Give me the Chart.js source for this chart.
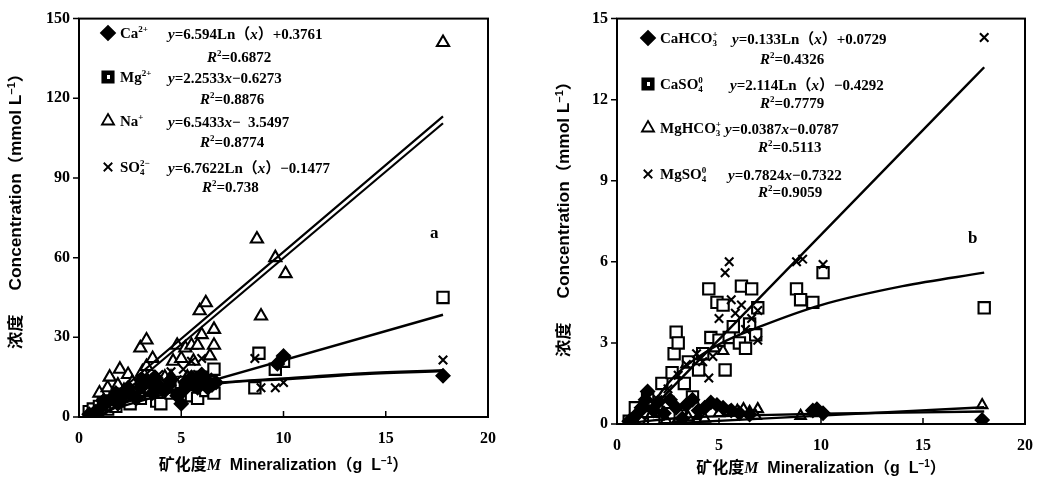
<!DOCTYPE html>
<html>
<head>
<meta charset="utf-8">
<script src="https://cdn.jsdelivr.net/npm/chart.js@4.4.1/dist/chart.umd.min.js"></script>
<style>
  body { margin: 0; background: #fff; }
  #wrap { position: relative; width: 1045px; height: 479px; }
  canvas { position: absolute; top: 0; }
</style>
</head>
<body>
<div id="wrap">
  <canvas id="chartA" width="520" height="479" style="left:0"></canvas>
  <canvas id="chartB" width="525" height="479" style="left:520px"></canvas>
</div>
<script>
// ---- panel a : ions (mmol/L) vs mineralization (g/L) ----
var xTicks = [0, 5, 10, 15, 20];
var yTicksA = [0, 30, 60, 90, 120, 150];
var yTicksB = [0, 3, 6, 9, 12, 15];

var caPts = [[0.5,1],[0.8,2],[1.0,3],[1.2,6],[1.3,5],[1.6,7],[1.8,9],[1.9,5],[2.2,8],[2.4,11],[2.5,9],[2.8,7],[3.0,11],[3.1,14],[3.3,13],[3.6,9],[3.7,15],[3.9,12],[4.2,10],[4.4,12],[4.5,14],[4.8,8],[5.0,5],[5.1,10],[5.2,13],[5.5,15],[5.6,12],[5.8,11],[5.9,14],[6.0,16],[6.2,14],[6.3,11],[6.5,12],[6.7,13],[9.7,20],[10.0,23],[17.8,15.5]];
var mgPts = [[0.5,2],[0.7,3],[0.9,1],[1.0,4],[1.2,5],[1.4,3],[1.6,6],[1.8,4],[2.0,8],[2.2,6],[2.5,5],[2.8,10],[3.0,7],[3.2,12],[3.5,9],[3.8,6],[4.0,5],[4.2,12],[4.5,9],[4.8,11],[5.0,13],[5.2,10],[5.5,8],[5.8,7],[5.9,12],[6.0,15],[6.2,10],[6.4,13],[6.6,18],[6.6,9],[8.6,11],[8.8,24],[9.6,18],[10.0,21],[17.8,45]];
var naPts = [[0.5,1],[0.7,2],[0.9,4],[1.0,9],[1.2,6],[1.4,11],[1.5,15],[1.7,8],[1.9,12],[2.0,18],[2.2,10],[2.4,16],[2.6,13],[2.8,9],[3.0,26],[3.1,17],[3.3,29],[3.3,19],[3.5,13],[3.6,22],[3.8,11],[4.0,11],[4.2,15],[4.5,15],[4.6,21],[4.8,27],[5.0,22],[5.2,26],[5.3,15],[5.5,27],[5.6,21],[5.8,27],[5.9,40],[6.0,31],[6.2,43],[6.4,23],[6.6,33],[6.6,27],[8.7,67],[8.9,38],[9.6,60],[10.1,54],[17.8,141]];
var so4Pts = [[0.6,1],[0.9,2],[1.2,4],[1.5,6],[1.8,8],[2.1,7],[2.4,9],[2.7,11],[3.0,10],[3.3,14],[3.6,12],[3.9,16],[4.2,13],[4.5,17],[4.8,14],[5.1,18],[5.5,21],[5.8,16],[6.0,22],[6.3,15],[6.6,13],[8.6,22],[8.9,11],[9.6,11],[10.0,13],[17.8,21.5]];

// fitted lines
var naFit1 = [[1.5,6.6],[17.8,113.2]];
var naFit2 = [[1.5,4.6],[17.8,110.6]];
var mgFit = [[2,3.8],[17.8,38.5]];
var caFit = [[1,0.4],[2,5],[3,7.8],[5,10.8],[7,13],[10,14.5],[14,16.5],[17.8,17.6]];
var so4Fit = [[1,0],[2,4.5],[3,7.2],[5,10.5],[7,12.8],[10,14.2],[14,16.2],[17.8,17.3]];

// ---- panel b : species ----
var cahco3Pts = [[0.6,0.1],[0.9,0.3],[1.2,0.6],[1.4,0.9],[1.5,1.2],[1.8,0.5],[2.0,0.8],[2.3,0.4],[2.6,0.9],[2.9,0.6],[3.2,0.2],[3.4,0.7],[3.7,0.9],[4.0,0.5],[4.3,0.6],[4.6,0.8],[4.9,0.7],[5.2,0.6],[5.6,0.5],[6.0,0.4],[6.5,0.35],[9.6,0.5],[9.8,0.55],[10.1,0.4],[17.9,0.15]];
var caso4Pts = [[0.6,0.1],[0.9,0.6],[1.3,0.05],[1.5,0.9],[1.8,0.05],[2.0,0.5],[2.2,1.5],[2.5,0.8],[2.7,1.9],[2.8,2.6],[2.9,3.4],[3.0,3.0],[3.1,0.3],[3.3,1.5],[3.5,2.3],[3.7,1.0],[4.0,2.0],[4.2,2.6],[4.5,5.0],[4.6,3.2],[4.9,4.5],[5.0,3.1],[5.2,4.4],[5.3,2.0],[5.5,3.2],[5.7,3.6],[6.0,3.0],[6.1,5.1],[6.3,2.8],[6.5,3.7],[6.6,5.0],[6.9,4.3],[6.8,3.3],[8.8,5.0],[9.0,4.6],[9.6,4.5],[10.1,5.6],[18.0,4.3]];
var mghco3Pts = [[0.7,0.05],[1.2,0.1],[1.8,0.1],[2.4,0.15],[3.0,0.2],[3.4,2.2],[3.5,0.25],[4.0,0.3],[4.3,0.2],[4.8,2.8],[5.0,0.4],[5.2,2.7],[5.5,0.45],[5.9,0.5],[6.2,0.55],[6.5,0.45],[6.9,0.55],[6.8,0.3],[9.0,0.3],[9.8,0.4],[17.9,0.7]];
var mgso4Pts = [[0.8,0.1],[1.2,0.3],[1.6,0.6],[2.0,0.9],[2.5,1.3],[3.0,1.8],[3.4,2.2],[3.9,2.6],[4.2,2.3],[4.5,1.7],[4.7,2.5],[5.0,3.9],[5.3,5.6],[5.5,6.0],[5.6,4.6],[5.8,4.1],[6.1,4.4],[6.3,3.5],[6.6,3.9],[6.9,4.2],[6.9,3.1],[8.8,6.0],[9.1,6.1],[10.1,5.9],[18.0,14.3]];

var mgso4Fit = [[2,0.8],[18,13.2]];
var caso4Fit = [[1,-0.4],[2,1.0],[3,1.9],[5,2.95],[7,3.6],[10,4.4],[14,5.1],[18,5.6]];
var mghco3Fit = [[2,0.0],[18,0.62]];
var cahco3Fit = [[1,0.07],[3,0.22],[5,0.29],[7,0.33],[10,0.38],[14,0.42],[18,0.46]];

// draw text made of pieces: [text, flags]  i=italic ^=sup _=sub ==sub without advance s=sans c=cjk
function rich(ctx, x, y, parts, size, bold, align, sx) {
  sx = sx || 1;
  var items = parts.map(function (p) {
    var t = p[0], f = p[1] || '';
    var small = /[\^_=]/.test(f);
    var sz = small ? Math.round(size * 0.62) : size;
    var fam = f.indexOf('c') >= 0 ? '"Noto Sans CJK SC"' : f.indexOf('s') >= 0 ? '"Liberation Sans"' : '"Liberation Serif"';
    var font = (f.indexOf('i') >= 0 ? 'italic ' : '') + (bold ? 'bold ' : '') + sz + 'px ' + fam;
    ctx.font = font;
    var w = ctx.measureText(t).width;
    var dy = f.indexOf('^') >= 0 ? -size * 0.4 : /[_=]/.test(f) ? size * 0.22 : 0;
    return { t: t, font: font, dy: dy, adv: f.indexOf('=') >= 0 ? 0 : w };
  });
  var total = items.reduce(function (s, it) { return s + it.adv; }, 0);
  ctx.save();
  ctx.translate(x, y);
  ctx.scale(sx, 1);
  var cx = align === 'center' ? -total / 2 : 0;
  ctx.textAlign = 'left';
  ctx.textBaseline = 'alphabetic';
  ctx.fillStyle = '#000';
  items.forEach(function (it) {
    ctx.font = it.font;
    ctx.fillText(it.t, cx, it.dy);
    cx += it.adv;
  });
  ctx.restore();
}

var decor = {
  id: 'decor',
  afterDatasetsDraw: function (chart, args, o) {
    var ctx = chart.ctx, a = chart.chartArea, sX = chart.scales.x, sY = chart.scales.y;
    ctx.save();
    ctx.strokeStyle = '#000';
    ctx.lineWidth = 2;
    ctx.strokeRect(a.left, a.top, a.right - a.left, a.bottom - a.top);
    ctx.lineWidth = 1.5;
    ctx.beginPath();
    sX.ticks.forEach(function (t) {
      var px = sX.getPixelForValue(t.value);
      ctx.moveTo(px, a.bottom); ctx.lineTo(px, a.bottom - 6);
    });
    sY.ticks.forEach(function (t) {
      var py = sY.getPixelForValue(t.value);
      ctx.moveTo(a.left - 6, py); ctx.lineTo(a.left, py);
    });
    ctx.stroke();

    // legend with equations
    o.items.forEach(function (it) {
      ctx.save();
      ctx.strokeStyle = '#000';
      ctx.fillStyle = it.fill;
      ctx.lineWidth = 1.8;
      Chart.helpers.drawPoint(ctx, { pointStyle: it.style, radius: it.r, borderWidth: 1.8, rotation: 0 }, o.mx, it.y);
      if (it.mark) {
        ctx.fillStyle = '#fff';
        ctx.fillRect(o.mx - 1, it.y - 2, 3, 4);
      }
      ctx.restore();
      rich(ctx, o.lx, it.y + 5, it.label, 15, true);
      rich(ctx, it.ex, it.y + 6, it.eq, 15, true);
      rich(ctx, it.rx, it.ry, it.r2, 15, true);
    });

    // panel letter
    rich(ctx, o.tag[1], o.tag[2], [[o.tag[0], '']], 17, true);

    // axis titles
    rich(ctx, (a.left + a.right) / 2, o.xt, [['矿化度', 'c'], ['M', 'i'], ['  Mineralization', 's'], ['（', 'c'], ['g  L', 's'], ['−1', 's^'], ['）', 'c']], 16, true, 'center');
    ctx.save();
    ctx.translate(o.yt[0], o.yt[1]);
    ctx.rotate(-Math.PI / 2);
    rich(ctx, 0, 6, [['浓度', 'c'], ['     Concentration', 's'], ['（', 'c'], ['mmol L', 's'], ['−1', 's^'], ['）', 'c']], 16, true, 'center', 1.08);
    ctx.restore();
    ctx.restore();
  }
};

function pts(arr) { return arr.map(function (p) { return { x: p[0], y: p[1] }; }); }
function marks(arr, style, r, fill) {
  return { data: pts(arr), pointStyle: style, pointRadius: r, pointBackgroundColor: fill,
           pointBorderColor: '#000', pointBorderWidth: 2.1, showLine: false };
}
function fit(arr, w) {
  return { data: pts(arr), showLine: true, borderColor: '#000', borderWidth: w || 2.4, pointRadius: 0,
           cubicInterpolationMode: 'monotone', fill: false };
}

function makeChart(id, datasets, yTicks, box, deco) {
  var tickFont = { family: 'Liberation Serif', size: 16, weight: 'bold' };
  return new Chart(document.getElementById(id), {
    type: 'scatter',
    data: { datasets: datasets },
    options: {
      responsive: false,
      animation: false,
      layout: { padding: { left: 0, right: box.right, top: box.top, bottom: 0 } },
      plugins: { legend: { display: false }, tooltip: { enabled: false }, decor: deco },
      scales: {
        x: {
          min: 0, max: 20,
          afterBuildTicks: function (s) { s.ticks = xTicks.map(function (v) { return { value: v }; }); },
          grid: { display: false, drawTicks: false },
          border: { display: false },
          ticks: { font: tickFont, color: '#000', padding: 12, maxRotation: 0 },
          afterFit: function (s) { s.height = box.xh; }
        },
        y: {
          min: yTicks[0], max: yTicks[yTicks.length - 1],
          afterBuildTicks: function (s) { s.ticks = yTicks.map(function (v) { return { value: v }; }); },
          grid: { display: false, drawTicks: false },
          border: { display: false },
          ticks: { font: tickFont, color: '#000', padding: 9 },
          afterFit: function (s) { s.width = box.yw; }
        }
      }
    },
    plugins: [decor]
  });
}

makeChart('chartA', [
  fit(naFit1, 2.2), fit(naFit2, 2.2), fit(mgFit), fit(caFit), fit(so4Fit),
  marks(so4Pts, 'crossRot', 6, '#000'),
  marks(caPts, 'rectRot', 6.5, '#000'),
  marks(mgPts, 'rect', 8, '#fff'),
  marks(naPts, 'triangle', 7, '#fff')
], yTicksA, { right: 32, top: 10, xh: 62, yw: 79 }, {
  mx: 108, lx: 120, xt: 470, yt: [15, 207], tag: ['a', 430, 238],
  items: [
    { style: 'rectRot', r: 7, fill: '#000', y: 33, label: [['Ca', ''], ['2+', '^']],
      ex: 168, eq: [['y', 'i'], ['=6.594Ln', ''], ['（', 'c'], ['x', 'i'], ['）', 'c'], ['+0.3761', '']],
      rx: 207, ry: 62, r2: [['R', 'i'], ['2', '^'], ['=0.6872', '']] },
    { style: 'rect', r: 8, fill: '#000', mark: true, y: 77, label: [['Mg', ''], ['2+', '^']],
      ex: 168, eq: [['y', 'i'], ['=2.2533', ''], ['x', 'i'], ['−0.6273', '']],
      rx: 200, ry: 104, r2: [['R', 'i'], ['2', '^'], ['=0.8876', '']] },
    { style: 'triangle', r: 7, fill: '#fff', y: 121, label: [['Na', ''], ['+', '^']],
      ex: 168, eq: [['y', 'i'], ['=6.5433', ''], ['x', 'i'], ['−  3.5497', '']],
      rx: 200, ry: 147, r2: [['R', 'i'], ['2', '^'], ['=0.8774', '']] },
    { style: 'crossRot', r: 6, fill: '#000', y: 167, label: [['SO', ''], ['4', '='], ['2−', '^']],
      ex: 168, eq: [['y', 'i'], ['=6.7622Ln', ''], ['（', 'c'], ['x', 'i'], ['）', 'c'], ['−0.1477', '']],
      rx: 202, ry: 192, r2: [['R', 'i'], ['2', '^'], ['=0.738', '']] }
  ]
});

makeChart('chartB', [
  fit(mgso4Fit), fit(caso4Fit), fit(mghco3Fit), fit(cahco3Fit),
  marks(mgso4Pts, 'crossRot', 6, '#000'),
  marks(cahco3Pts, 'rectRot', 6.5, '#000'),
  marks(caso4Pts, 'rect', 8, '#fff'),
  marks(mghco3Pts, 'triangle', 6, '#fff')
], yTicksB, { right: 13, top: 17, xh: 55, yw: 97 }, {
  mx: 128, lx: 140, xt: 473, yt: [43, 215], tag: ['b', 448, 243],
  items: [
    { style: 'rectRot', r: 7, fill: '#000', y: 38, label: [['CaHCO', ''], ['3', '='], ['+', '^']],
      ex: 212, eq: [['y', 'i'], ['=0.133Ln', ''], ['（', 'c'], ['x', 'i'], ['）', 'c'], ['+0.0729', '']],
      rx: 240, ry: 64, r2: [['R', 'i'], ['2', '^'], ['=0.4326', '']] },
    { style: 'rect', r: 8, fill: '#000', mark: true, y: 84, label: [['CaSO', ''], ['4', '='], ['0', '^']],
      ex: 210, eq: [['y', 'i'], ['=2.114Ln', ''], ['（', 'c'], ['x', 'i'], ['）', 'c'], ['−0.4292', '']],
      rx: 240, ry: 108, r2: [['R', 'i'], ['2', '^'], ['=0.7779', '']] },
    { style: 'triangle', r: 7, fill: '#fff', y: 128, label: [['MgHCO', ''], ['3', '='], ['+', '^']],
      ex: 205, eq: [['y', 'i'], ['=0.0387', ''], ['x', 'i'], ['−0.0787', '']],
      rx: 238, ry: 152, r2: [['R', 'i'], ['2', '^'], ['=0.5113', '']] },
    { style: 'crossRot', r: 6, fill: '#000', y: 174, label: [['MgSO', ''], ['4', '='], ['0', '^']],
      ex: 208, eq: [['y', 'i'], ['=0.7824', ''], ['x', 'i'], ['−0.7322', '']],
      rx: 238, ry: 197, r2: [['R', 'i'], ['2', '^'], ['=0.9059', '']] }
  ]
});
</script>
</body>
</html>
